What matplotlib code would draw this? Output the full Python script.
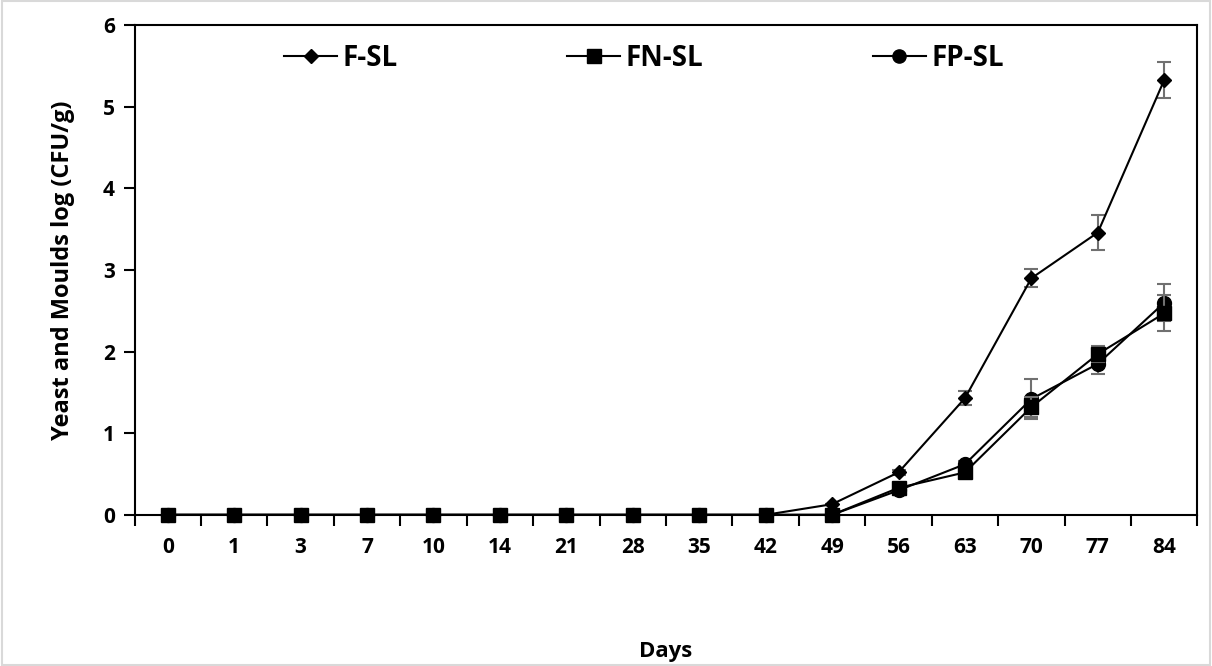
import numpy as np
import matplotlib.pyplot as plt

days = ["0", "1", "3", "7", "10", "14", "21", "28", "35", "42", "49", "56", "63", "70", "77", "84"]

f_sl = [0, 0, 0, 0, 0, 0, 0, 0, 0, 0, 0.13, 0.52, 1.43, 2.90, 3.46, 5.33]
f_sl_err = [0, 0, 0, 0, 0, 0, 0, 0, 0, 0, 0, 0.03, 0.09, 0.11, 0.21, 0.22]
fn_sl = [0, 0, 0, 0, 0, 0, 0, 0, 0, 0, 0, 0.33, 0.52, 1.32, 1.97, 2.47]
fn_sl_err = [0, 0, 0, 0, 0, 0, 0, 0, 0, 0, 0, 0.03, 0.04, 0.12, 0.10, 0.22]
fp_sl = [0, 0, 0, 0, 0, 0, 0, 0, 0, 0, 0, 0.30, 0.62, 1.42, 1.85, 2.60]
fp_sl_err = [0, 0, 0, 0, 0, 0, 0, 0, 0, 0, 0, 0.03, 0.04, 0.25, 0.12, 0.23]

plt.rcParams['font.family'] = ['Open Sans', 'DejaVu Sans']
plt.rcParams['font.weight'] = 'bold'

fig = plt.figure(figsize=(12.12, 6.66), dpi=100)
ax = fig.add_axes([0.111, 0.227, 0.877, 0.735])

x = np.arange(len(days))
ekw = dict(ecolor='#707070', elinewidth=1.5, capsize=5, capthick=1.5)

# squares last so they sit on top along the zero line
series = [
    (f_sl, f_sl_err, 'D', 7.5, 'F-SL', 5),
    (fp_sl, fp_sl_err, 'o', 10, 'FP-SL', 5),
    (fn_sl, fn_sl_err, 's', 10.5, 'FN-SL', 6),
]
for y, err, mk, ms, name, z in series:
    eb = ax.errorbar(x, y, yerr=err, color='black', lw=1.5, marker=mk, ms=ms,
                     label=name, zorder=z, **ekw)
    eb[0].set_clip_on(False)

ax.set_xlim(-0.5, len(days) - 0.5)
ax.set_ylim(0, 6)
ax.set_yticks(range(0, 7))
ax.set_xticks(x)
ax.set_xticklabels(days)
ax.set_xticks(np.arange(-0.5, len(days)), minor=True)
ax.tick_params(axis='x', which='major', length=0, pad=16, labelsize=15)
ax.tick_params(axis='x', which='minor', length=8, width=1.5, direction='out')
ax.tick_params(axis='y', length=8, width=1.5, direction='out', labelsize=15, pad=6)
for lbl in ax.get_xticklabels() + ax.get_yticklabels():
    lbl.set_fontweight('bold')
for s in ax.spines.values():
    s.set_linewidth(1.5)
    s.set_zorder(2)

ax.set_xlabel('Days', fontsize=16, fontweight='bold', labelpad=60)
ax.set_ylabel('Yeast and Moulds log (CFU/g)', fontsize=17, fontweight='bold', labelpad=20)

handles, labels = ax.get_legend_handles_labels()
order = [labels.index(n) for n in ['F-SL', 'FN-SL', 'FP-SL']]
leg = ax.legend([handles[i][0] for i in order], [labels[i] for i in order],
                loc='upper left', bbox_to_anchor=(0.141, 0.962), ncol=3, frameon=False,
                borderaxespad=0, borderpad=0,
                handlelength=1.9, handletextpad=0.2, columnspacing=6.1,
                markerscale=0.95, prop={'size': 20, 'weight': 'bold'})

fig.patches.append(plt.Rectangle((0.002, 0.002), 0.996, 0.996, transform=fig.transFigure,
                                 fill=False, edgecolor='#d9d9d9', lw=1.5))

fig.savefig('out.png', dpi=100)
